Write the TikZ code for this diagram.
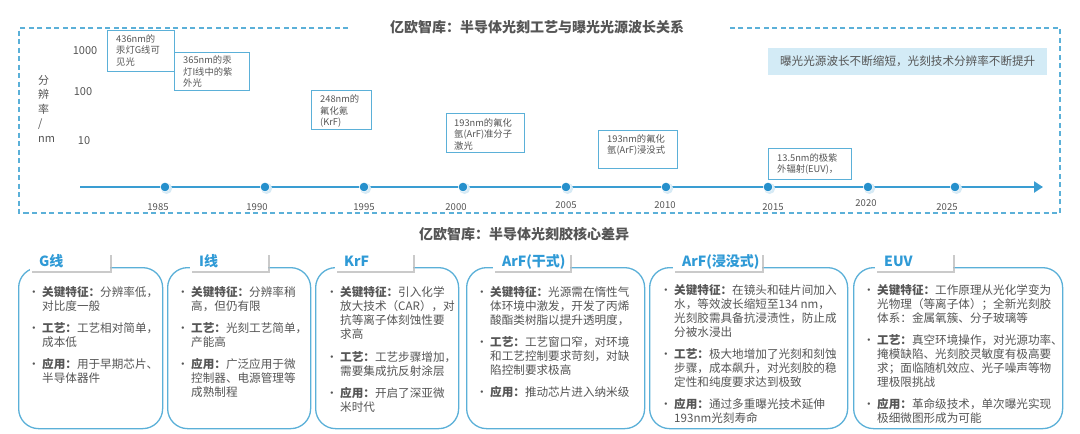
\documentclass[tikz,border=0pt]{standalone}
\usepackage{fontspec}
\setmainfont{Noto Sans CJK SC}
\usetikzlibrary{arrows.meta,shadows,calc}
\definecolor{cBlue}{HTML}{3A9DD2}
\definecolor{cBlueL}{HTML}{5BB0D8}
\definecolor{cDot}{HTML}{2690CC}
\definecolor{cHalo}{HTML}{D6EAF5}
\definecolor{cHi}{HTML}{D3EBF6}
\definecolor{cTxt}{HTML}{555555}
\definecolor{cTitle}{HTML}{2F9AD6}
\definecolor{cShadow}{HTML}{BDBDBD}
\newcommand{\bul}{\makebox[14pt][l]{•}}
\begin{document}
\begin{tikzpicture}[x=1pt,y=-1pt,
  frame/.style={draw=cBlueL, line width=1.1pt, dash pattern=on 5pt off 3.5pt},
  ttl/.style={font=\bfseries\fontsize{14}{16}\selectfont, text=cTxt, inner sep=0},
  tbox/.style={draw=cBlueL, line width=1pt, fill=white, anchor=north west, inner sep=0},
  tlab/.style={font=\fontsize{9.3}{11.6}\selectfont, text=cTxt, align=left, anchor=north west, inner sep=0},
  axl/.style={font=\fontsize{11}{14}\selectfont, text=cTxt, inner sep=0},
  yr/.style={font=\fontsize{9.5}{11}\selectfont, text=cTxt, inner sep=0},
  card/.style={draw=cBlueL, line width=1.3pt, rounded corners=20pt, anchor=north west, inner sep=0},
  tab/.style={fill=white, anchor=west, inner xsep=9pt, inner ysep=0, minimum height=18pt, align=left,
     font=\bfseries\fontsize{14}{16}\selectfont, text=cTitle,
     drop shadow={shadow xshift=2.2pt, shadow yshift=-2.6pt, opacity=0.8, fill=cShadow}},
  ctext/.style={font=\fontsize{11.6}{14}\selectfont, text=cTxt, anchor=north west, inner sep=0, align=left},
]
\useasboundingbox (0,0) rectangle (1080,434);
\fill[white] (0,0) rectangle (1080,434);

% ---------- top frame ----------
\node[ttl] (title1) at (537,27) {亿欧智库：半导体光刻工艺与曝光光源波长关系};
\coordinate (fa) at (348,28);
\coordinate (fb) at (727,28);
\draw[frame] (fa) -- (19,28) -- (19,213) -- (1060,213) -- (1060,28) -- (fb);

% highlight
\node[fill=cHi, minimum width=279pt, minimum height=27pt, inner sep=0, anchor=north west,
      font=\fontsize{11.6}{14}\selectfont, text=cTxt] (hi) at (768,48) {曝光光源波长不断缩短，光刻技术分辨率不断提升};

% axis labels
\node[axl] (y1000) at (85,51) {1000};
\node[axl] (y100) at (83,92) {100};
\node[axl] (y10) at (84,141) {10};
\node[axl, align=left, anchor=north west, font=\fontsize{11}{14.5}\selectfont] (yunit) at (38,75) {分\\辨\\率\\/\\nm};

% timeline
\coordinate (t0) at (80,187);
\coordinate (t1) at (1043,187);
\draw[cBlue, line width=2.2pt, -{Triangle[length=9pt,width=11pt]}] (t0) -- (t1);
\foreach \x/\lx/\ly/\yrs [count=\i] in {165/158/207/1985, 265/257/207/1990, 364/364/207/1995, 463/456/207/2000, 566/566/205/2005, 666/665/205/2010, 768/773/207/2015, 868/866/203/2020, 955/947/207/2025}{
  \fill[cHalo] (\x+1.6,187+1.4) circle (5.6pt);
  \fill[white] (\x,187) circle (5pt);
  \fill[cDot] (\x,187) circle (4.3pt);
  \node[yr] (yr\i) at (\lx,\ly) {\yrs};
}

% wavelength boxes
\node[tbox, minimum width=67pt, minimum height=41pt] (b1) at (107,30) {};
\node[tlab] (l1) at (116,34) {436nm的\\汞灯G线可\\见光};
\node[tbox, minimum width=75pt, minimum height=38pt] (b2) at (174,52) {};
\node[tlab] (l2) at (183,55.5) {365nm的汞\\灯I线中的紫\\外光};
\node[tbox, minimum width=60pt, minimum height=39pt] (b3) at (311,90) {};
\node[tlab] (l3) at (320,94.5) {248nm的\\氟化氪\\(KrF)};
\node[tbox, minimum width=78pt, minimum height=39pt] (b4) at (446,113) {};
\node[tlab] (l4) at (454,118) {193nm的氟化\\氩(ArF)准分子\\激光};
\node[tbox, minimum width=79pt, minimum height=38pt] (b5) at (598,130) {};
\node[tlab] (l5) at (607,134) {193nm的氟化\\氩(ArF)浸没式};
\node[tbox, minimum width=83pt, minimum height=31pt] (b6) at (768,148) {};
\node[tlab] (l6) at (777,153) {13.5nm的极紫\\外辐射(EUV)，};

% ---------- bottom ----------
\node[ttl] (title2) at (524,234) {亿欧智库：半导体光刻胶核心差异};

% cards
\node[card, minimum width=144pt, minimum height=161pt] (c1) at (18,267) {};
\node[card, minimum width=143pt, minimum height=161pt] (c2) at (167,267) {};
\node[card, minimum width=143pt, minimum height=161pt] (c3) at (315,267) {};
\node[card, minimum width=178pt, minimum height=161pt] (c4) at (466,267) {};
\node[card, minimum width=198pt, minimum height=161pt] (c5) at (649,267) {};
\node[card, minimum width=209pt, minimum height=161pt] (c6) at (853,267) {};

% tabs
\node[tab, text width=62pt] (g1) at (30,261.5) {G线};
\node[tab, text width=60pt] (g2) at (190,261.5) {I线};
\node[tab, text width=60pt] (g3) at (335,261.5) {KrF};
\node[tab, text width=59pt] (g4) at (493,261.5) {ArF(干式)};
\node[tab, text width=71pt] (g5) at (673,261.5) {ArF(浸没式)};
\node[tab, text width=60pt] (g6) at (875,261.5) {EUV};

% card texts
\node[ctext] (x1) at (28,286) {\begin{tabular}{@{}l@{}l@{}}
\bul&\textbf{关键特征：}分辨率低，\\ &对比度一般\\[8pt]
\bul&\textbf{工艺：}工艺相对简单，\\ &成本低\\[8pt]
\bul&\textbf{应用：}用于早期芯片、\\ &半导体器件
\end{tabular}};

\node[ctext] (x2) at (177,286) {\begin{tabular}{@{}l@{}l@{}}
\bul&\textbf{关键特征：}分辨率稍\\ &高，但仍有限\\[8pt]
\bul&\textbf{工艺：}光刻工艺简单，\\ &产能高\\[8pt]
\bul&\textbf{应用：}广泛应用于微\\ &控制器、电源管理等\\ &成熟制程
\end{tabular}};

\node[ctext] (x3) at (326,286) {\begin{tabular}{@{}l@{}l@{}}
\bul&\textbf{关键特征：}引入化学\\ &放大技术（CAR），对\\ &抗等离子体刻蚀性要\\ &求高\\[9pt]
\bul&\textbf{工艺：}工艺步骤增加，\\ &需要集成抗反射涂层\\[8pt]
\bul&\textbf{应用：}开启了深亚微\\ &米时代
\end{tabular}};

\node[ctext] (x4) at (476,286) {\begin{tabular}{@{}l@{}l@{}}
\bul&\textbf{关键特征：}光源需在惰性气\\ &体环境中激发，开发了丙烯\\ &酸酯类树脂以提升透明度，\\[8pt]
\bul&\textbf{工艺：}工艺窗口窄，对环境\\ &和工艺控制要求苛刻，对缺\\ &陷控制要求极高\\[8pt]
\bul&\textbf{应用：}推动芯片进入纳米级
\end{tabular}};

\node[ctext, font=\fontsize{11.6}{13.9}\selectfont] (x5) at (660,284) {\begin{tabular}{@{}l@{}l@{}}
\bul&\textbf{关键特征：}在镜头和硅片间加入\\ &水，等效波长缩短至134 nm，\\ &光刻胶需具备抗浸渍性，防止成\\ &分被水浸出\\[8pt]
\bul&\textbf{工艺：}极大地增加了光刻和刻蚀\\ &步骤，成本飙升，对光刻胶的稳\\ &定性和纯度要求达到极致\\[8pt]
\bul&\textbf{应用：}通过多重曝光技术延伸\\ &193nm光刻寿命
\end{tabular}};

\node[ctext, font=\fontsize{11.6}{13.9}\selectfont] (x6) at (863,284) {\begin{tabular}{@{}l@{}l@{}}
\bul&\textbf{关键特征：}工作原理从光化学变为\\ &光物理（等离子体）；全新光刻胶\\ &体系：金属氧簇、分子玻璃等\\[8pt]
\bul&\textbf{工艺：}真空环境操作，对光源功率、\\ &掩模缺陷、光刻胶灵敏度有极高要\\ &求；面临随机效应、光子噪声等物\\ &理极限挑战\\[8pt]
\bul&\textbf{应用：}革命级技术，单次曝光实现\\ &极细微图形成为可能
\end{tabular}};
\end{tikzpicture}
\end{document}
